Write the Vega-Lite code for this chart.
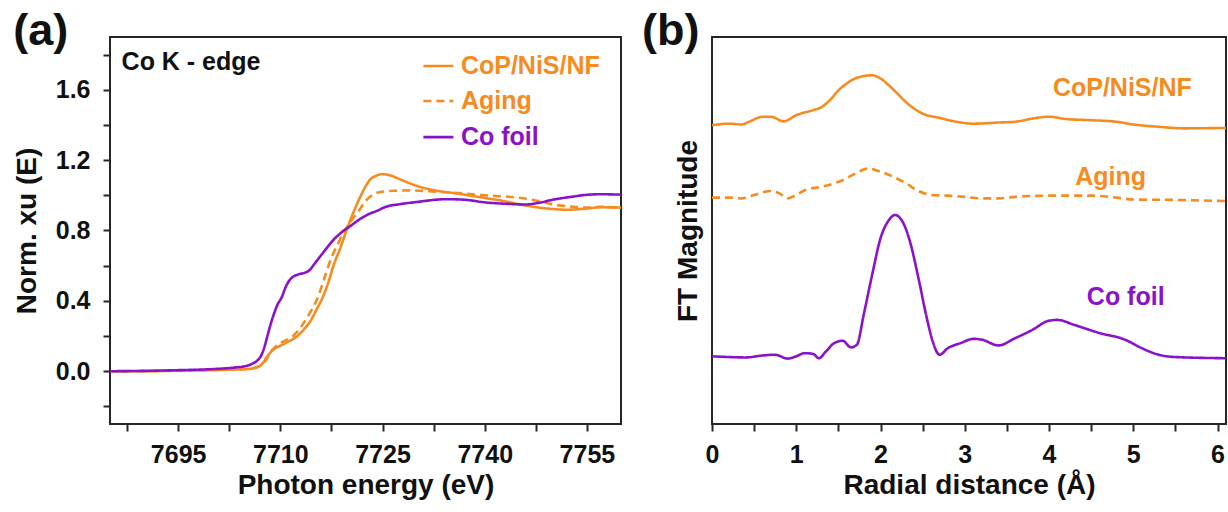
{
  "$schema": "https://vega.github.io/schema/vega-lite/v6.json",
  "padding": {"left": 12, "top": 8, "right": 2, "bottom": 0},
  "spacing": 19,
  "config": {
    "font": "Liberation Sans",
    "view": {"stroke": "#262626", "strokeWidth": 2},
    "axis": {
      "grid": false, "domain": false,
      "tickColor": "#262626", "tickWidth": 2, "tickSize": 7, "tickCount": 40,
      "labelFont": "Liberation Sans", "labelFontSize": 25, "labelFontWeight": "bold", "labelColor": "#111",
      "titleFont": "Liberation Sans", "titleFontSize": 28, "titleFontWeight": "bold", "titleColor": "#111",
      "labelFlush": false, "labelOverlap": false
    }
  },
  "datasets": {
    "xanes": [
      {"series": "CoP/NiS/NF", "E": 7685, "mu": 0.0},
      {"series": "CoP/NiS/NF", "E": 7690, "mu": 0.0},
      {"series": "CoP/NiS/NF", "E": 7695, "mu": 0.003},
      {"series": "CoP/NiS/NF", "E": 7700, "mu": 0.006},
      {"series": "CoP/NiS/NF", "E": 7703, "mu": 0.009},
      {"series": "CoP/NiS/NF", "E": 7705, "mu": 0.012},
      {"series": "CoP/NiS/NF", "E": 7706, "mu": 0.016},
      {"series": "CoP/NiS/NF", "E": 7706.6, "mu": 0.022},
      {"series": "CoP/NiS/NF", "E": 7707.5, "mu": 0.05},
      {"series": "CoP/NiS/NF", "E": 7708, "mu": 0.08},
      {"series": "CoP/NiS/NF", "E": 7708.6, "mu": 0.108},
      {"series": "CoP/NiS/NF", "E": 7709.2, "mu": 0.13},
      {"series": "CoP/NiS/NF", "E": 7710, "mu": 0.145},
      {"series": "CoP/NiS/NF", "E": 7711, "mu": 0.165},
      {"series": "CoP/NiS/NF", "E": 7712.5, "mu": 0.2},
      {"series": "CoP/NiS/NF", "E": 7713.5, "mu": 0.24},
      {"series": "CoP/NiS/NF", "E": 7714.5, "mu": 0.29},
      {"series": "CoP/NiS/NF", "E": 7715.3, "mu": 0.35},
      {"series": "CoP/NiS/NF", "E": 7716.1, "mu": 0.41},
      {"series": "CoP/NiS/NF", "E": 7717, "mu": 0.5},
      {"series": "CoP/NiS/NF", "E": 7717.8, "mu": 0.6},
      {"series": "CoP/NiS/NF", "E": 7718.8, "mu": 0.7},
      {"series": "CoP/NiS/NF", "E": 7719.8, "mu": 0.81},
      {"series": "CoP/NiS/NF", "E": 7720.8, "mu": 0.91},
      {"series": "CoP/NiS/NF", "E": 7721.8, "mu": 0.997},
      {"series": "CoP/NiS/NF", "E": 7722.5, "mu": 1.05},
      {"series": "CoP/NiS/NF", "E": 7723.2, "mu": 1.09},
      {"series": "CoP/NiS/NF", "E": 7724, "mu": 1.11},
      {"series": "CoP/NiS/NF", "E": 7724.9, "mu": 1.12},
      {"series": "CoP/NiS/NF", "E": 7726, "mu": 1.115},
      {"series": "CoP/NiS/NF", "E": 7727.6, "mu": 1.09},
      {"series": "CoP/NiS/NF", "E": 7730, "mu": 1.054},
      {"series": "CoP/NiS/NF", "E": 7733, "mu": 1.026},
      {"series": "CoP/NiS/NF", "E": 7736, "mu": 1.01},
      {"series": "CoP/NiS/NF", "E": 7740, "mu": 0.985},
      {"series": "CoP/NiS/NF", "E": 7743, "mu": 0.966},
      {"series": "CoP/NiS/NF", "E": 7745, "mu": 0.95},
      {"series": "CoP/NiS/NF", "E": 7748, "mu": 0.93},
      {"series": "CoP/NiS/NF", "E": 7750, "mu": 0.922},
      {"series": "CoP/NiS/NF", "E": 7752, "mu": 0.918},
      {"series": "CoP/NiS/NF", "E": 7755, "mu": 0.925},
      {"series": "CoP/NiS/NF", "E": 7757, "mu": 0.932},
      {"series": "CoP/NiS/NF", "E": 7760, "mu": 0.93},

      {"series": "Aging", "E": 7685, "mu": 0.0},
      {"series": "Aging", "E": 7690, "mu": 0.001},
      {"series": "Aging", "E": 7695, "mu": 0.004},
      {"series": "Aging", "E": 7700, "mu": 0.007},
      {"series": "Aging", "E": 7705, "mu": 0.013},
      {"series": "Aging", "E": 7707, "mu": 0.03},
      {"series": "Aging", "E": 7708, "mu": 0.07},
      {"series": "Aging", "E": 7708.6, "mu": 0.11},
      {"series": "Aging", "E": 7709.3, "mu": 0.14},
      {"series": "Aging", "E": 7710, "mu": 0.16},
      {"series": "Aging", "E": 7711, "mu": 0.18},
      {"series": "Aging", "E": 7712, "mu": 0.205},
      {"series": "Aging", "E": 7713, "mu": 0.25},
      {"series": "Aging", "E": 7714, "mu": 0.31},
      {"series": "Aging", "E": 7715.4, "mu": 0.41},
      {"series": "Aging", "E": 7716.4, "mu": 0.52},
      {"series": "Aging", "E": 7717.4, "mu": 0.637},
      {"series": "Aging", "E": 7718.4, "mu": 0.72},
      {"series": "Aging", "E": 7719.3, "mu": 0.79},
      {"series": "Aging", "E": 7720.3, "mu": 0.85},
      {"series": "Aging", "E": 7721.3, "mu": 0.9},
      {"series": "Aging", "E": 7722.7, "mu": 0.975},
      {"series": "Aging", "E": 7724.2, "mu": 1.015},
      {"series": "Aging", "E": 7726.6, "mu": 1.026},
      {"series": "Aging", "E": 7729, "mu": 1.028},
      {"series": "Aging", "E": 7733, "mu": 1.02},
      {"series": "Aging", "E": 7736, "mu": 1.013},
      {"series": "Aging", "E": 7740, "mu": 1.0},
      {"series": "Aging", "E": 7744, "mu": 0.99},
      {"series": "Aging", "E": 7747, "mu": 0.975},
      {"series": "Aging", "E": 7750, "mu": 0.948},
      {"series": "Aging", "E": 7753, "mu": 0.935},
      {"series": "Aging", "E": 7755, "mu": 0.93},
      {"series": "Aging", "E": 7757, "mu": 0.935},
      {"series": "Aging", "E": 7760, "mu": 0.93},

      {"series": "Co foil", "E": 7685, "mu": 0.0},
      {"series": "Co foil", "E": 7690, "mu": 0.002},
      {"series": "Co foil", "E": 7695, "mu": 0.006},
      {"series": "Co foil", "E": 7700, "mu": 0.012},
      {"series": "Co foil", "E": 7703, "mu": 0.02},
      {"series": "Co foil", "E": 7705, "mu": 0.03},
      {"series": "Co foil", "E": 7706, "mu": 0.045},
      {"series": "Co foil", "E": 7706.6, "mu": 0.06},
      {"series": "Co foil", "E": 7707.2, "mu": 0.09},
      {"series": "Co foil", "E": 7707.6, "mu": 0.13},
      {"series": "Co foil", "E": 7708.1, "mu": 0.2},
      {"series": "Co foil", "E": 7708.6, "mu": 0.27},
      {"series": "Co foil", "E": 7709.1, "mu": 0.33},
      {"series": "Co foil", "E": 7709.6, "mu": 0.38},
      {"series": "Co foil", "E": 7710.2, "mu": 0.42},
      {"series": "Co foil", "E": 7710.8, "mu": 0.48},
      {"series": "Co foil", "E": 7711.4, "mu": 0.52},
      {"series": "Co foil", "E": 7712, "mu": 0.54},
      {"series": "Co foil", "E": 7712.8, "mu": 0.552},
      {"series": "Co foil", "E": 7713.6, "mu": 0.56},
      {"series": "Co foil", "E": 7714.3, "mu": 0.575},
      {"series": "Co foil", "E": 7715, "mu": 0.61},
      {"series": "Co foil", "E": 7716, "mu": 0.66},
      {"series": "Co foil", "E": 7717, "mu": 0.71},
      {"series": "Co foil", "E": 7718, "mu": 0.755},
      {"series": "Co foil", "E": 7719, "mu": 0.79},
      {"series": "Co foil", "E": 7720.3, "mu": 0.826},
      {"series": "Co foil", "E": 7721.5, "mu": 0.86},
      {"series": "Co foil", "E": 7722.8, "mu": 0.89},
      {"series": "Co foil", "E": 7724.2, "mu": 0.912},
      {"series": "Co foil", "E": 7725.5, "mu": 0.935},
      {"series": "Co foil", "E": 7727.6, "mu": 0.95},
      {"series": "Co foil", "E": 7730, "mu": 0.962},
      {"series": "Co foil", "E": 7734.4, "mu": 0.978},
      {"series": "Co foil", "E": 7737, "mu": 0.975},
      {"series": "Co foil", "E": 7740, "mu": 0.96},
      {"series": "Co foil", "E": 7743, "mu": 0.952},
      {"series": "Co foil", "E": 7746, "mu": 0.948},
      {"series": "Co foil", "E": 7748, "mu": 0.958},
      {"series": "Co foil", "E": 7750, "mu": 0.975},
      {"series": "Co foil", "E": 7753, "mu": 0.993},
      {"series": "Co foil", "E": 7755, "mu": 1.003},
      {"series": "Co foil", "E": 7757, "mu": 1.006},
      {"series": "Co foil", "E": 7760, "mu": 1.004}
    ],
    "legA": [
      {"series": "CoP/NiS/NF", "E": 7731.0, "E2": 7735.4, "mu": 1.735},
      {"series": "Aging", "E": 7731.0, "E2": 7735.4, "mu": 1.536},
      {"series": "Co foil", "E": 7731.0, "E2": 7735.4, "mu": 1.331}
    ],
    "legAText": [
      {"series": "CoP/NiS/NF", "E": 7736.5, "mu": 1.735},
      {"series": "Aging", "E": 7736.5, "mu": 1.536},
      {"series": "Co foil", "E": 7736.5, "mu": 1.331}
    ],
    "noteA": [
      {"E": 7686.7, "mu": 1.757, "label": "Co K - edge"}
    ],
    "tagA": [
      {"E": 7670.8, "mu": 1.854, "label": "(a)"}
    ],
    "tagB": [
      {"r": -0.83, "m": 97.9, "label": "(b)"}
    ],
    "ft": [
      {"series": "CoP/NiS/NF", "r": 0.0, "m": 77.2},
      {"series": "CoP/NiS/NF", "r": 0.2, "m": 77.6},
      {"series": "CoP/NiS/NF", "r": 0.35, "m": 77.4},
      {"series": "CoP/NiS/NF", "r": 0.45, "m": 78.2},
      {"series": "CoP/NiS/NF", "r": 0.6, "m": 79.4},
      {"series": "CoP/NiS/NF", "r": 0.7, "m": 79.4},
      {"series": "CoP/NiS/NF", "r": 0.85, "m": 78.2},
      {"series": "CoP/NiS/NF", "r": 1.0, "m": 79.8},
      {"series": "CoP/NiS/NF", "r": 1.2, "m": 81.1},
      {"series": "CoP/NiS/NF", "r": 1.3, "m": 81.9},
      {"series": "CoP/NiS/NF", "r": 1.4, "m": 83.7},
      {"series": "CoP/NiS/NF", "r": 1.5, "m": 86.2},
      {"series": "CoP/NiS/NF", "r": 1.6, "m": 88.0},
      {"series": "CoP/NiS/NF", "r": 1.7, "m": 89.3},
      {"series": "CoP/NiS/NF", "r": 1.8, "m": 89.9},
      {"series": "CoP/NiS/NF", "r": 1.9, "m": 90.1},
      {"series": "CoP/NiS/NF", "r": 2.0, "m": 89.3},
      {"series": "CoP/NiS/NF", "r": 2.1, "m": 87.5},
      {"series": "CoP/NiS/NF", "r": 2.2, "m": 85.4},
      {"series": "CoP/NiS/NF", "r": 2.3, "m": 83.2},
      {"series": "CoP/NiS/NF", "r": 2.4, "m": 81.5},
      {"series": "CoP/NiS/NF", "r": 2.5, "m": 80.2},
      {"series": "CoP/NiS/NF", "r": 2.7, "m": 79.1},
      {"series": "CoP/NiS/NF", "r": 2.9, "m": 78.1},
      {"series": "CoP/NiS/NF", "r": 3.1, "m": 77.6},
      {"series": "CoP/NiS/NF", "r": 3.4, "m": 77.9},
      {"series": "CoP/NiS/NF", "r": 3.6, "m": 78.1},
      {"series": "CoP/NiS/NF", "r": 3.8, "m": 78.9},
      {"series": "CoP/NiS/NF", "r": 4.0, "m": 79.4},
      {"series": "CoP/NiS/NF", "r": 4.2, "m": 78.8},
      {"series": "CoP/NiS/NF", "r": 4.5, "m": 78.5},
      {"series": "CoP/NiS/NF", "r": 4.8, "m": 78.1},
      {"series": "CoP/NiS/NF", "r": 5.0, "m": 77.4},
      {"series": "CoP/NiS/NF", "r": 5.3, "m": 76.8},
      {"series": "CoP/NiS/NF", "r": 5.6, "m": 76.4},
      {"series": "CoP/NiS/NF", "r": 6.1, "m": 76.5},

      {"series": "Aging", "r": 0.0, "m": 58.5},
      {"series": "Aging", "r": 0.2, "m": 58.5},
      {"series": "Aging", "r": 0.35, "m": 58.3},
      {"series": "Aging", "r": 0.5, "m": 59.2},
      {"series": "Aging", "r": 0.7, "m": 60.2},
      {"series": "Aging", "r": 0.8, "m": 59.6},
      {"series": "Aging", "r": 0.9, "m": 58.3},
      {"series": "Aging", "r": 1.0, "m": 59.2},
      {"series": "Aging", "r": 1.1, "m": 60.4},
      {"series": "Aging", "r": 1.3, "m": 61.3},
      {"series": "Aging", "r": 1.45, "m": 62.2},
      {"series": "Aging", "r": 1.55, "m": 63.0},
      {"series": "Aging", "r": 1.7, "m": 64.7},
      {"series": "Aging", "r": 1.85, "m": 66.0},
      {"series": "Aging", "r": 2.0, "m": 65.2},
      {"series": "Aging", "r": 2.15, "m": 63.9},
      {"series": "Aging", "r": 2.3, "m": 62.2},
      {"series": "Aging", "r": 2.45, "m": 60.2},
      {"series": "Aging", "r": 2.6, "m": 59.2},
      {"series": "Aging", "r": 2.8, "m": 59.0},
      {"series": "Aging", "r": 3.0, "m": 58.7},
      {"series": "Aging", "r": 3.2, "m": 58.3},
      {"series": "Aging", "r": 3.4, "m": 58.3},
      {"series": "Aging", "r": 3.6, "m": 58.7},
      {"series": "Aging", "r": 4.0, "m": 59.0},
      {"series": "Aging", "r": 4.5, "m": 59.0},
      {"series": "Aging", "r": 4.8, "m": 58.5},
      {"series": "Aging", "r": 5.0, "m": 58.0},
      {"series": "Aging", "r": 5.5, "m": 57.9},
      {"series": "Aging", "r": 6.1, "m": 57.6},

      {"series": "Co foil", "r": 0.0, "m": 17.5},
      {"series": "Co foil", "r": 0.2, "m": 17.3},
      {"series": "Co foil", "r": 0.4, "m": 17.2},
      {"series": "Co foil", "r": 0.6, "m": 17.7},
      {"series": "Co foil", "r": 0.75, "m": 17.9},
      {"series": "Co foil", "r": 0.9, "m": 16.9},
      {"series": "Co foil", "r": 1.0, "m": 17.5},
      {"series": "Co foil", "r": 1.1, "m": 18.3},
      {"series": "Co foil", "r": 1.2, "m": 18.1},
      {"series": "Co foil", "r": 1.27, "m": 17.0},
      {"series": "Co foil", "r": 1.35, "m": 18.7},
      {"series": "Co foil", "r": 1.45, "m": 20.9},
      {"series": "Co foil", "r": 1.55, "m": 21.5},
      {"series": "Co foil", "r": 1.65, "m": 19.8},
      {"series": "Co foil", "r": 1.72, "m": 20.5},
      {"series": "Co foil", "r": 1.8, "m": 28.2},
      {"series": "Co foil", "r": 1.9, "m": 38.5},
      {"series": "Co foil", "r": 2.0, "m": 48.0},
      {"series": "Co foil", "r": 2.1, "m": 52.7},
      {"series": "Co foil", "r": 2.17, "m": 54.0},
      {"series": "Co foil", "r": 2.25, "m": 52.7},
      {"series": "Co foil", "r": 2.35, "m": 47.1},
      {"series": "Co foil", "r": 2.45, "m": 37.7},
      {"series": "Co foil", "r": 2.55, "m": 27.3},
      {"series": "Co foil", "r": 2.62, "m": 21.3},
      {"series": "Co foil", "r": 2.7, "m": 17.9},
      {"series": "Co foil", "r": 2.8, "m": 19.6},
      {"series": "Co foil", "r": 2.95, "m": 20.9},
      {"series": "Co foil", "r": 3.1, "m": 22.0},
      {"series": "Co foil", "r": 3.2, "m": 21.8},
      {"series": "Co foil", "r": 3.4, "m": 20.3},
      {"series": "Co foil", "r": 3.6, "m": 22.2},
      {"series": "Co foil", "r": 3.8, "m": 24.3},
      {"series": "Co foil", "r": 4.0, "m": 26.7},
      {"series": "Co foil", "r": 4.1, "m": 26.9},
      {"series": "Co foil", "r": 4.3, "m": 25.6},
      {"series": "Co foil", "r": 4.6, "m": 23.5},
      {"series": "Co foil", "r": 4.9, "m": 21.8},
      {"series": "Co foil", "r": 5.1, "m": 19.6},
      {"series": "Co foil", "r": 5.3, "m": 17.9},
      {"series": "Co foil", "r": 5.5, "m": 17.3},
      {"series": "Co foil", "r": 6.1, "m": 17.0}
    ],
    "labB": [
      {"series": "CoP/NiS/NF", "r": 4.87, "m": 86.7},
      {"series": "Aging", "r": 4.73, "m": 63.9},
      {"series": "Co foil", "r": 4.91, "m": 32.9}
    ]
  },
  "hconcat": [
    {
      "width": 511,
      "height": 387,
      "layer": [
        {
          "data": {"name": "xanes"},
          "mark": {"type": "line", "strokeWidth": 2.6, "interpolate": "monotone", "clip": true},
          "encoding": {
            "x": {"field": "E", "type": "quantitative",
                  "scale": {"domain": [7685, 7760], "nice": false, "zero": false},
                  "axis": {"title": "Photon energy (eV)", "tickCount": 40,
                           "values": [7687.5, 7695, 7702.5, 7710, 7717.5, 7725, 7732.5, 7740, 7747.5, 7755],
                           "labelExpr": "round(datum.value*2) % 30 == 0 ? format(datum.value, 'd') : ''",
                           "labelPadding": 11, "titlePadding": 4}},
            "y": {"field": "mu", "type": "quantitative",
                  "scale": {"domain": [-0.3, 1.9], "nice": false, "zero": false},
                  "axis": {"title": "Norm. xu (E)", "tickCount": 40,
                           "values": [-0.2, 0, 0.2, 0.4, 0.6, 0.8, 1.0, 1.2, 1.4, 1.6, 1.8],
                           "format": ".1f",
                           "labelExpr": "abs(datum.value - round(datum.value / 0.4) * 0.4) < 0.001 ? datum.label : ''",
                           "labelPadding": 13, "titlePadding": 14}},
            "color": {"field": "series", "type": "nominal",
                      "scale": {"domain": ["CoP/NiS/NF", "Aging", "Co foil"], "range": ["#F68B1F", "#F68B1F", "#8A12C8"]},
                      "legend": null},
            "strokeDash": {"field": "series", "type": "nominal",
                           "scale": {"domain": ["CoP/NiS/NF", "Aging", "Co foil"], "range": [[1, 0], [8, 5], [1, 0]]},
                           "legend": null}
          }
        },
        {
          "data": {"name": "legA"},
          "mark": {"type": "rule", "strokeWidth": 2.6},
          "encoding": {
            "x": {"field": "E", "type": "quantitative"},
            "x2": {"field": "E2"},
            "y": {"field": "mu", "type": "quantitative"},
            "color": {"field": "series", "type": "nominal", "legend": null},
            "strokeDash": {"field": "series", "type": "nominal", "legend": null}
          }
        },
        {
          "data": {"name": "legAText"},
          "mark": {"type": "text", "align": "left", "baseline": "middle", "fontSize": 25, "fontWeight": "bold"},
          "encoding": {
            "x": {"field": "E", "type": "quantitative"},
            "y": {"field": "mu", "type": "quantitative"},
            "text": {"field": "series"},
            "color": {"field": "series", "type": "nominal", "legend": null}
          }
        },
        {
          "data": {"name": "noteA"},
          "mark": {"type": "text", "align": "left", "baseline": "middle", "fontSize": 25, "fontWeight": "bold", "color": "#111"},
          "encoding": {
            "x": {"field": "E", "type": "quantitative"},
            "y": {"field": "mu", "type": "quantitative"},
            "text": {"field": "label"}
          }
        },
        {
          "data": {"name": "tagA"},
          "mark": {"type": "text", "align": "left", "baseline": "alphabetic", "fontSize": 45, "fontWeight": "bold", "color": "#111"},
          "encoding": {
            "x": {"field": "E", "type": "quantitative"},
            "y": {"field": "mu", "type": "quantitative"},
            "text": {"field": "label"}
          }
        }
      ]
    },
    {
      "width": 514,
      "height": 387,
      "layer": [
        {
          "data": {"name": "ft"},
          "mark": {"type": "line", "strokeWidth": 2.6, "interpolate": "monotone", "clip": true},
          "encoding": {
            "x": {"field": "r", "type": "quantitative",
                  "scale": {"domain": [0, 6.1], "nice": false, "zero": false},
                  "axis": {"title": "Radial distance (Å)", "tickCount": 40,
                           "values": [0, 0.5, 1, 1.5, 2, 2.5, 3, 3.5, 4, 4.5, 5, 5.5, 6],
                           "labelExpr": "datum.value % 1 == 0 ? format(datum.value, 'd') : ''",
                           "labelPadding": 11, "titlePadding": 4}},
            "y": {"field": "m", "type": "quantitative",
                  "scale": {"domain": [0, 100], "nice": false, "zero": false},
                  "axis": {"title": "FT Magnitude", "labels": false, "ticks": false, "titlePadding": 10}},
            "color": {"field": "series", "type": "nominal",
                      "scale": {"domain": ["CoP/NiS/NF", "Aging", "Co foil"], "range": ["#F68B1F", "#F68B1F", "#8A12C8"]},
                      "legend": null},
            "strokeDash": {"field": "series", "type": "nominal",
                           "scale": {"domain": ["CoP/NiS/NF", "Aging", "Co foil"], "range": [[1, 0], [8, 5], [1, 0]]},
                           "legend": null}
          }
        },
        {
          "data": {"name": "labB"},
          "mark": {"type": "text", "align": "center", "baseline": "middle", "fontSize": 25, "fontWeight": "bold"},
          "encoding": {
            "x": {"field": "r", "type": "quantitative"},
            "y": {"field": "m", "type": "quantitative"},
            "text": {"field": "series"},
            "color": {"field": "series", "type": "nominal", "legend": null}
          }
        },
        {
          "data": {"name": "tagB"},
          "mark": {"type": "text", "align": "left", "baseline": "alphabetic", "fontSize": 45, "fontWeight": "bold", "color": "#111"},
          "encoding": {
            "x": {"field": "r", "type": "quantitative"},
            "y": {"field": "m", "type": "quantitative"},
            "text": {"field": "label"}
          }
        }
      ]
    }
  ]
}
